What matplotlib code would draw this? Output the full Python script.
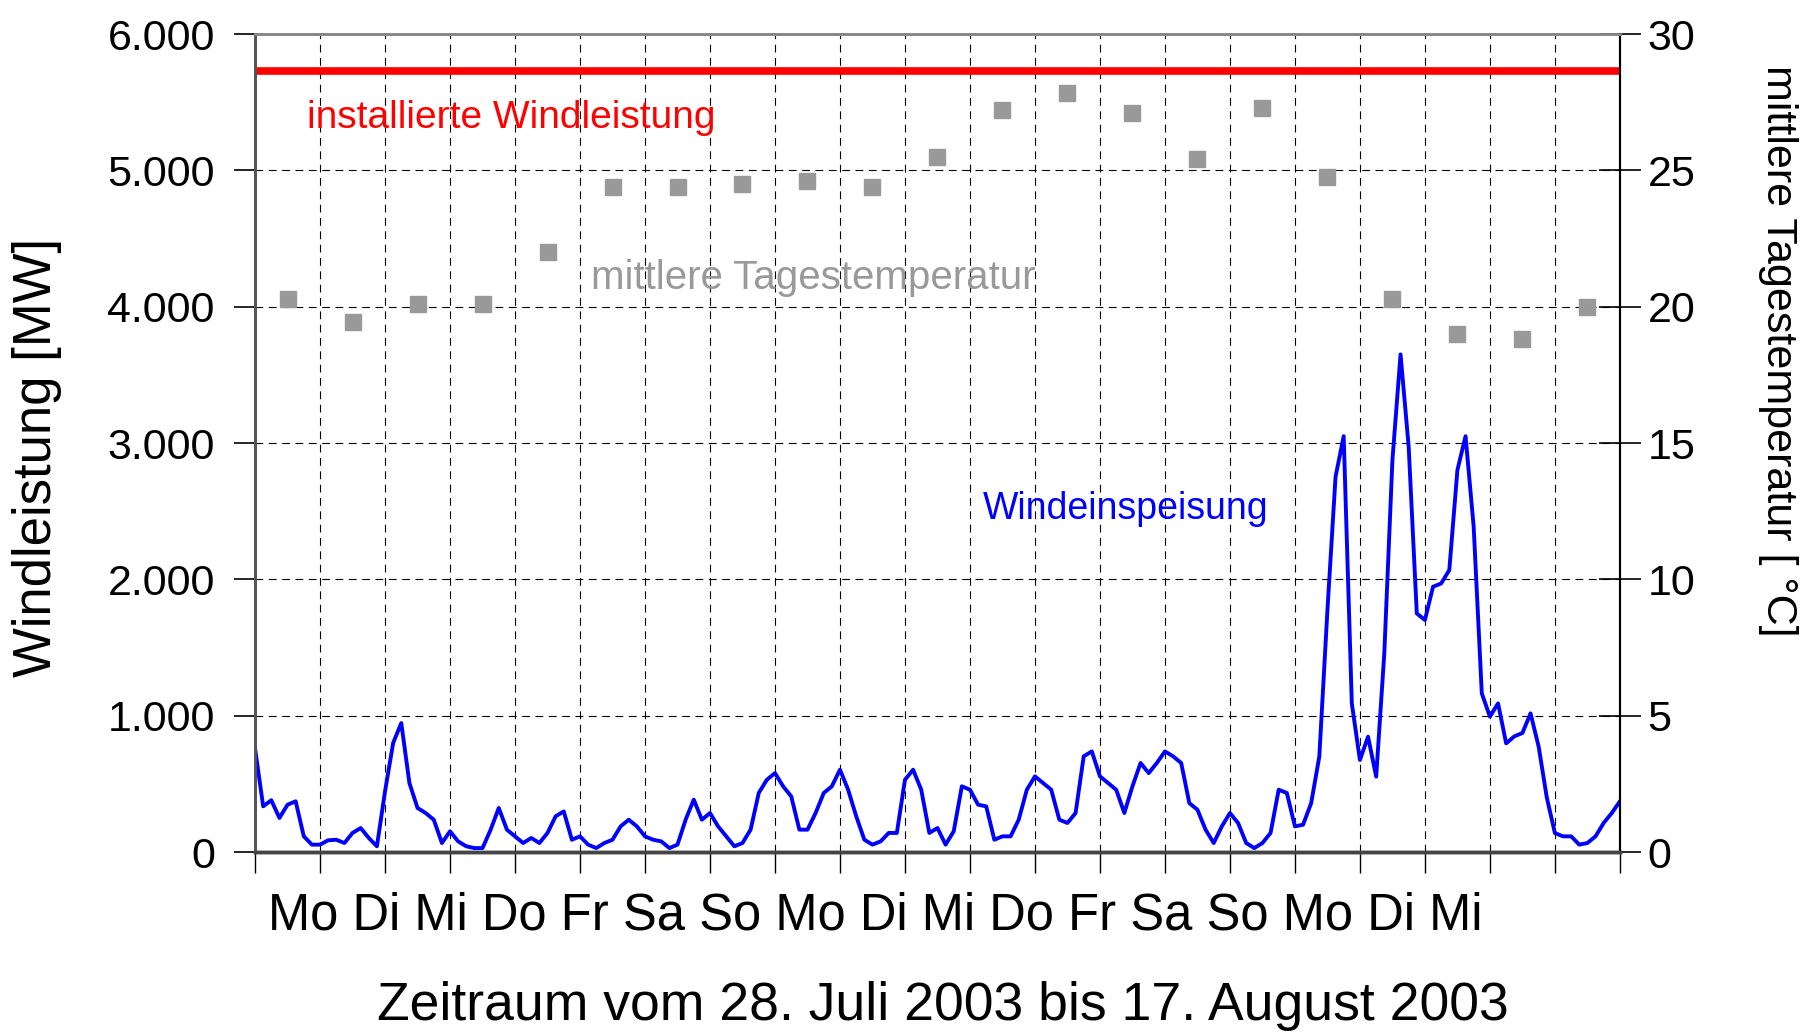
import numpy as np
import matplotlib
matplotlib.use("Agg")
import matplotlib.pyplot as plt
from matplotlib.ticker import FixedLocator

plt.rcParams['font.family'] = ['Liberation Sans', 'DejaVu Sans']

# ==== Daten ====
# Windeinspeisung [MW], 8 Werte pro Tag (3-stündlich), 28.07. - 17.08.2003
wind_mw = [
    760, 335, 380, 250, 347, 372, 115, 54,      # Mo 28.07.
    54, 86, 90, 66, 140, 176, 103, 42,          # Di
    445, 800, 946, 506, 323, 286, 237, 66,      # Mi
    152, 78, 42, 29, 29, 164, 323, 164,         # Do
    115, 66, 103, 66, 140, 262, 298, 90,        # Fr
    115, 54, 29, 66, 90, 188, 237, 188,         # Sa
    115, 90, 78, 29, 54, 237, 384, 237,         # So
    286, 188, 115, 42, 66, 164, 433, 530,       # Mo 04.08.
    579, 482, 408, 164, 164, 286, 433, 482,     # Di
    604, 457, 262, 90, 54, 78, 140, 140,        # Mi
    530, 604, 457, 140, 176, 54, 152, 482,      # Do
    457, 347, 335, 90, 115, 115, 237, 457,      # Fr
    555, 506, 457, 237, 213, 286, 702, 738,     # Sa
    555, 506, 457, 286, 482, 653, 579, 653,     # So
    738, 702, 653, 359, 310, 164, 66, 188,      # Mo 11.08.
    286, 213, 66, 29, 66, 140, 457, 433,        # Di
    188, 200, 359, 700, 1775, 2753, 3050, 1090, # Mi
    675, 846, 553, 1457, 2875, 3650, 2973, 1750,# Do
    1702, 1946, 1970, 2068, 2802, 3050, 2386, 1164,  # Fr
    993, 1090, 797, 848, 873, 1017, 773, 400,   # Sa
    139, 115, 115, 54, 66, 115, 213, 286,       # So 17.08.
    372,
]
# mittlere Tagestemperatur [°C], ein Wert pro Tag
temp_c = [20.3, 19.45, 20.1, 20.1, 22.0, 24.4, 24.4, 24.5, 24.6, 24.4, 25.5,
          27.2, 27.85, 27.1, 25.4, 27.3, 24.75, 20.3, 19.0, 18.8, 20.0]
installed_mw = 5730
n_days = 21
samples_per_day = 8

y_ticks = [0, 1000, 2000, 3000, 4000, 5000, 6000]
y_ticklabels = ["0", "1.000", "2.000", "3.000", "4.000", "5.000", "6.000"]
t_ticks = [0, 5, 10, 15, 20, 25, 30]
day_labels = ["Mo", "Di", "Mi", "Do", "Fr", "Sa", "So",
              "Mo", "Di", "Mi", "Do", "Fr", "Sa", "So",
              "Mo", "Di", "Mi"]

# ==== Zeitachsen ====
t_wind = np.arange(len(wind_mw)) / samples_per_day
t_temp = np.arange(n_days) + 0.5

# ==== Abbildung ====
fig = plt.figure(figsize=(18.14, 10.34), dpi=100)
ax = fig.add_axes([0.1406, 0.1760, 0.8930 - 0.1406, 0.9671 - 0.1760])
ax2 = ax.twinx()

ax.set_xlim(0, n_days)
ax.set_ylim(0, 6000)
ax2.set_ylim(0, 30)

grid_kw = dict(color="black", linewidth=0.8, linestyle=(0, (7, 5)), zorder=0)
for v in y_ticks[1:-1]:
    ax.axhline(v, **grid_kw)
for d in range(1, n_days):
    ax.axvline(d, **grid_kw)

ax.axhline(installed_mw, color="#ff0000", linewidth=5.5, zorder=3)
ax.plot(t_wind, wind_mw, color="#0000ff", linewidth=2.8, zorder=4)
ax2.plot(t_temp, temp_c, linestyle="none", marker="s", markersize=12,
         color="#999999", markeredgecolor="#999999")

# Achsen
ax.yaxis.set_major_locator(FixedLocator(y_ticks))
ax.set_yticklabels(y_ticklabels)
ax.xaxis.set_major_locator(FixedLocator(range(n_days + 1)))
ax.set_xticklabels([])
ax.tick_params(axis="y", direction="out", length=15, width=1.2, pad=14,
               labelsize=31)
ax.tick_params(axis="x", direction="out", length=15, width=1.0)
ax2.yaxis.set_major_locator(FixedLocator(t_ticks))
ax2.tick_params(axis="y", direction="inout", length=30, width=1.2, pad=5,
                labelsize=31)

for a in (ax, ax2):
    a.spines["left"].set_color("#555555")
    a.spines["left"].set_linewidth(2)
    a.spines["top"].set_color("#888888")
    a.spines["top"].set_linewidth(2)
    a.spines["bottom"].set_color("#444444")
    a.spines["bottom"].set_linewidth(2.5)
    a.spines["right"].set_color("black")
    a.spines["right"].set_linewidth(1.5)

# Beschriftungen
ax.text(0.038, 0.897, "installierte Windleistung", transform=ax.transAxes,
        color="#ff0000", fontsize=28, va="center", ha="left")
ax.text(0.409, 0.702, "mittlere Tagestemperatur", transform=ax.transAxes,
        color="#999999", fontsize=29, va="center", ha="center")
ax.text(0.638, 0.419, "Windeinspeisung", transform=ax.transAxes,
        color="#0000ff", fontsize=27, va="center", ha="center")

fig.text(0.4826, 0.114, " ".join(day_labels), fontsize=36.5,
         ha="center", va="center")
fig.text(0.52, 0.027, "Zeitraum vom 28. Juli 2003 bis 17. August 2003",
         fontsize=38.5, ha="center", va="center")
fig.text(0.0204, 0.558, "Windleistung [MW]", fontsize=38, rotation=90,
         ha="center", va="center")
fig.text(0.980, 0.661, "mittlere Tagestemperatur [ °C]", fontsize=31,
         rotation=-90, ha="center", va="center")

fig.savefig("out.png", dpi=100)
